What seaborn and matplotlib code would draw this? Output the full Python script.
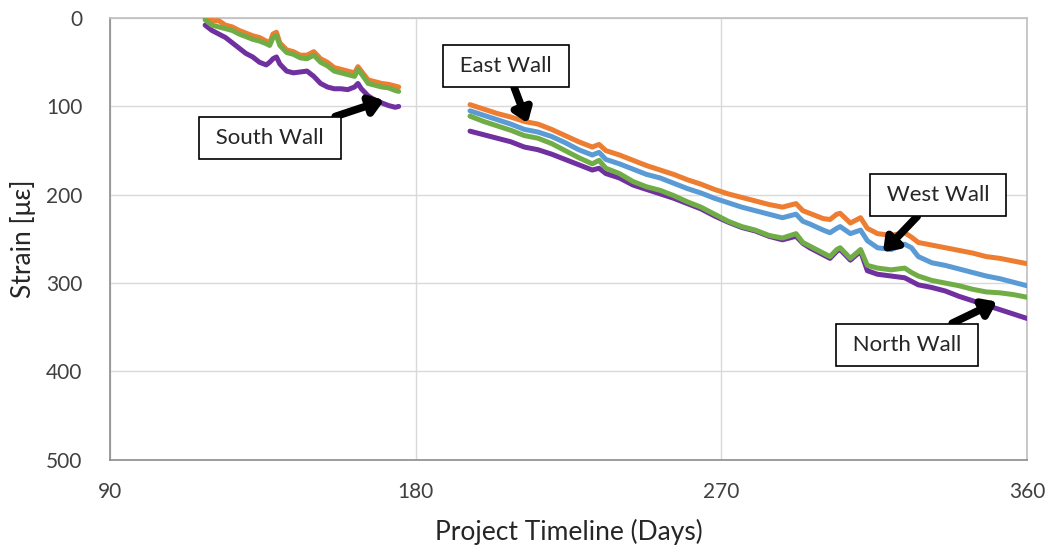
import numpy as np
import pandas as pd
import matplotlib
matplotlib.use("Agg")
import matplotlib.pyplot as plt
import seaborn as sns

# Strain readings (microstrain) for the first monitoring period
days_a = [118, 120, 122, 124, 126, 128, 130, 132, 134, 136, 137, 138, 139, 140, 142,
          144, 146, 148, 150, 152, 154, 156, 158, 160, 162, 163, 164, 166, 168, 170,
          172, 174, 175]
east_a = [0, 3, 3, 8, 10, 14, 17, 20, 22, 26, 28, 18, 16, 28, 36, 38, 42, 42, 38, 46,
          50, 56, 58, 60, 62, 55, 60, 70, 72, 74, 75, 77, 78]
south_a = [2, 8, 10, 12, 14, 18, 21, 24, 26, 29, 31, 22, 20, 31, 39, 41, 45, 46, 42, 50,
           54, 60, 62, 64, 66, 58, 63, 74, 76, 78, 79, 82, 83]
north_a = [8, 14, 18, 22, 28, 34, 40, 44, 50, 53, 50, 46, 44, 52, 60, 62, 61, 60, 66, 74,
           78, 80, 80, 81, 78, 74, 80, 88, 93, 96, 99, 101, 100]

# Strain readings for the second monitoring period
days_b = [196, 200, 204, 208, 212, 216, 220, 224, 228, 232, 234, 236, 240, 244, 248, 252,
          256, 260, 264, 268, 272, 276, 280, 284, 288, 292, 294, 296, 300, 302, 304, 305,
          308, 311, 313, 316, 320, 324, 326, 328, 332, 336, 340, 344, 348, 352, 356, 360]
east_b = [98, 103, 108, 112, 117, 120, 126, 133, 140, 146, 143, 150, 155, 161, 167, 172,
          177, 183, 188, 194, 199, 203, 207, 211, 214, 210, 218, 221, 227, 228, 222, 221,
          232, 226, 238, 244, 246, 243, 248, 254, 257, 260, 263, 266, 270, 272, 275, 278]
west_b = [105, 110, 115, 120, 126, 129, 134, 141, 149, 155, 152, 160, 165, 171, 177, 181,
          187, 193, 198, 204, 209, 214, 218, 222, 226, 222, 230, 233, 240, 243, 238, 236,
          244, 240, 252, 260, 262, 256, 260, 270, 277, 280, 284, 288, 292, 295, 299, 303]
south_b = [111, 117, 122, 127, 133, 136, 142, 150, 158, 165, 161, 170, 176, 185, 191, 195,
           201, 208, 214, 222, 230, 236, 240, 246, 249, 244, 254, 258, 266, 270, 262, 260,
           272, 262, 280, 283, 285, 283, 288, 292, 297, 300, 303, 307, 310, 311, 313, 316]
north_b = [128, 132, 136, 140, 146, 149, 154, 160, 166, 172, 170, 176, 181, 189, 194, 199,
           204, 210, 216, 224, 231, 237, 241, 247, 251, 247, 255, 260, 268, 272, 264, 262,
           274, 264, 286, 290, 292, 294, 298, 302, 305, 309, 315, 320, 325, 330, 335, 340]

walls = ["North Wall", "West Wall", "East Wall", "South Wall"]
colors = {"North Wall": "#7030A0", "West Wall": "#5B9BD5",
          "East Wall": "#ED7D31", "South Wall": "#70AD47"}

frames = []
for wall, vals in [("North Wall", north_a), ("East Wall", east_a), ("South Wall", south_a)]:
    frames.append(pd.DataFrame({"day": days_a, "strain": vals, "wall": wall, "period": 1}))
for wall, vals in [("North Wall", north_b), ("West Wall", west_b),
                   ("East Wall", east_b), ("South Wall", south_b)]:
    frames.append(pd.DataFrame({"day": days_b, "strain": vals, "wall": wall, "period": 2}))
df = pd.concat(frames, ignore_index=True)

sns.set_theme(style="white")
plt.rcParams["font.family"] = ["Lato", "DejaVu Sans"]

fig = plt.figure(figsize=(10.52, 5.48), dpi=100)
ax = fig.add_axes([0.1046, 0.161, 0.8716, 0.806])

for wall in walls:
    sub = df[df["wall"] == wall]
    sns.lineplot(data=sub, x="day", y="strain", units="period", estimator=None,
                 color=colors[wall], linewidth=3.6, ax=ax, legend=False, zorder=3)

ax.set_xlim(90, 360)
ax.set_ylim(500, 0)
ax.set_xticks([90, 180, 270, 360])
ax.set_yticks([0, 100, 200, 300, 400, 500])
ax.grid(True, color="#d9d9d9", linewidth=1)
ax.set_axisbelow(True)
for side in ["left", "bottom"]:
    ax.spines[side].set_color("#8c8c8c")
    ax.spines[side].set_linewidth(1.2)
for side in ["top", "right"]:
    ax.spines[side].set_color("#bfbfbf")
    ax.spines[side].set_linewidth(1.2)
ax.tick_params(axis="x", length=0, labelsize=15, colors="#404040", pad=16)
ax.tick_params(axis="y", length=0, labelsize=15, colors="#404040", pad=20)
ax.set_xlabel("Project Timeline (Days)", fontsize=19, color="#262626", labelpad=12)
ax.set_ylabel("Strain [με]", fontsize=19, color="#262626", labelpad=7)

box = dict(boxstyle="square,pad=0.5", fc="white", ec="black", lw=1.2)
arrow = dict(arrowstyle="-|>,head_length=0.55,head_width=0.4", lw=5.5, color="black",
             mutation_scale=14, shrinkA=0, shrinkB=0)
notes = [("East Wall", (213, 119), (206.6, 54)),
         ("South Wall", (170.7, 93), (137.1, 136)),
         ("West Wall", (317.6, 265), (333.8, 200)),
         ("North Wall", (351.2, 321), (324.7, 370))]
for label, xy, xytext in notes:
    ax.annotate(" " + label + " ", xy=xy, xytext=xytext, ha="center", va="center",
                fontsize=16, color="#262626", bbox=box, arrowprops=arrow, zorder=5)

fig.savefig("out.png", dpi=100)
